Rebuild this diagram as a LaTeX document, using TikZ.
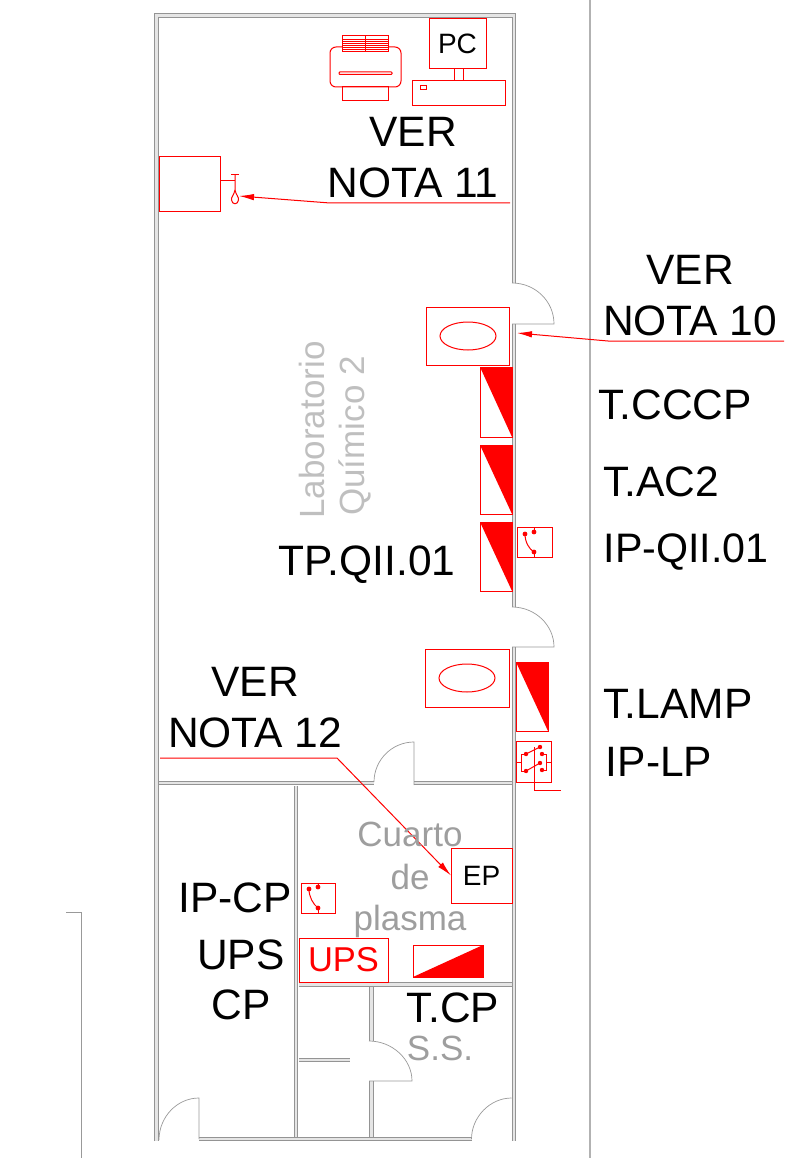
\documentclass[tikz,border=0pt]{standalone}
\usepackage{fontspec}
\setmainfont{Liberation Sans}
\usetikzlibrary{arrows.meta}
\begin{document}
\begin{tikzpicture}[x=1pt,y=-1pt,>=latex]
\tikzstyle{wall}=[draw=black!42,line width=.9pt,double=black!10,double distance=2.9pt]
\tikzstyle{door}=[draw=black!40,line width=.7pt]
\tikzstyle{grid}=[draw=black!30,line width=1.1pt]
\tikzstyle{eqbox}=[draw=red,line width=1pt,inner sep=0pt,outer sep=0pt,anchor=north west]
\tikzstyle{rline}=[draw=red,line width=1pt]
\tikzstyle{leader}=[draw=red,line width=1pt,-{Latex[length=15pt,width=6.5pt]}]
\tikzstyle{big}=[anchor=base,inner sep=0pt,font=\fontsize{42.5}{42.5}\selectfont]
\tikzstyle{room}=[anchor=base,inner sep=0pt,text=black!38,font=\fontsize{35}{35}\selectfont]
\tikzstyle{tag}=[inner sep=0pt,font=\fontsize{28}{28}\selectfont]
\useasboundingbox (0,0) rectangle (784,1158);
% walls
\draw[wall] (156.5,1141)--(156.5,15.5)--(514,15.5)--(514,283);
\draw[wall] (514,324)--(514,607);
\draw[wall] (514,647)--(514,1141);
\draw[wall] (159,783)--(374,783);
\draw[wall] (414,783)--(511.5,783);
\draw[wall] (296,785.5)--(296,1137);
\draw[wall] (298.5,984.5)--(511.5,984.5);
\draw[wall] (371.5,987)--(371.5,1041);
\draw[wall] (371.5,1081)--(371.5,1137);
\draw[wall] (298.5,1060)--(350,1060);
\draw[wall] (199,1139)--(471.5,1139);
% doors
\draw[door] (512,283) .. controls (535,283) and (554,301) .. (554,324)--(512,324);
\draw[door] (512,607) .. controls (535,607) and (554,625) .. (554,647)--(512,647);
\draw[door] (414,785)--(414,742) .. controls (392,742) and (374,760) .. (374,782);
\draw[door] (369,1041) .. controls (392,1041) and (412,1059) .. (412,1081)--(369,1081);
\draw[door] (199,1139)--(199,1098) .. controls (177,1098) and (159,1117) .. (159,1140);
\draw[door] (511.5,1098) .. controls (490,1098) and (471.5,1117) .. (471.5,1139);
% outside lines
\draw[grid] (590,0)--(590,1158);
\draw[door] (66,912)--(81,912)--(81,1158);
% printer
\node[eqbox,rounded corners=6pt,minimum width=71,minimum height=40] (PRN) at (330,47) {};
\node[eqbox,minimum width=46,minimum height=14] (FEED) at (342,87) {};
\node[eqbox,fill=white,minimum width=46,minimum height=16] (TRAY) at (342,36) {};
\foreach \y in {39,41,...,49} \draw[rline,line width=.6pt] (342,\y)--(388,\y);
\draw[rline,line width=.5pt] (365,36)--(365,52);
\node[eqbox,rounded corners=.8pt,minimum width=53,minimum height=2.5] (SLOT) at (339,72) {};
% computer
\node[eqbox,tag,minimum width=57,minimum height=50] (PC) at (429,19) {PC};
\node[eqbox,minimum width=93,minimum height=25] (CASE) at (412,81) {};
\node[eqbox,minimum width=6,minimum height=4] (LED) at (420,86) {};
\draw[rline] (454,69)--(454,81);
\draw[rline] (463,69)--(463,81);
% sink
\node[eqbox,minimum width=61,minimum height=55] (SINK) at (159,157) {};
\coordinate (TAPH) at (235,181);
\coordinate (TAPT) at (235,175);
\coordinate (DROP) at (239,196);
\draw[rline] (SINK.east |- TAPH)--(TAPH);
\draw[rline] (TAPT)--(235,190) .. controls (236,195) and (239,197) .. (238.5,200) .. controls (238,205) and (232,205) .. (231.5,200) .. controls (231,197) and (234,195) .. (235,190);
\draw[rline] (231,175)--(239,175);
% tables
\node[eqbox,minimum width=83,minimum height=58] (T1) at (426,307) {};
\draw[rline] (468,336) ellipse[x radius=28,y radius=14];
\node[eqbox,minimum width=84,minimum height=58] (T2) at (425,649) {};
\draw[rline] (467,678) ellipse[x radius=28,y radius=14];
% panels
\node[eqbox,minimum width=32,minimum height=70] (TCCCP) at (480,367) {};
\node[eqbox,minimum width=32,minimum height=69] (TAC) at (480,445) {};
\node[eqbox,minimum width=32,minimum height=69] (TPQ) at (480,522) {};
\node[eqbox,minimum width=32,minimum height=69] (TLAMP) at (516,662) {};
\foreach \p in {TCCCP,TAC,TPQ,TLAMP}
  \fill[red] (\p.north west)--(\p.north east)--(\p.south east)--cycle;
\node[eqbox,minimum width=70,minimum height=32] (TCP) at (413,945) {};
\fill[red] (TCP.south west)--(TCP.north east)--(TCP.south east)--cycle;
% switches
\node[eqbox,minimum width=35,minimum height=30] (IPQ) at (517,527) {};
\fill[red] (525,534) circle (2.4) (534,532) circle (2.4) (534,552) circle (2.4);
\draw[rline] (534,527)--(534,532) (534,552)--(534,557);
\draw[rline] (525,534) .. controls (525,542) and (529,549) .. (534,552);
\node[eqbox,minimum width=34,minimum height=30] (IPC) at (301,883) {};
\fill[red] (309,889) circle (2.4) (318,887) circle (2.4) (318,908) circle (2.4);
\draw[rline] (318,883)--(318,887) (318,908)--(318,913);
\draw[rline] (309,889) .. controls (309,897) and (313,904) .. (318,908);
\node[eqbox,minimum width=35,minimum height=41] (IPL) at (516,741) {};
\fill[red] (526,754) circle (2.2) (540,747) circle (2.2) (542,754) circle (2.2)
  (540,763) circle (2.2) (526,771) circle (2.2) (542,770) circle (2.2);
\draw[rline] (526,754)--(540,747) (526,771)--(540,763);
\draw[rline] (526,754)--(521,754)--(521,771)--(526,771) (516,762)--(521,762);
\draw[rline] (542,754)--(546,754)--(546,770)--(542,770) (546,762)--(551,762);
\draw[rline] (534,747)--(534,790)--(561,790);
% others
\node[eqbox,tag,minimum width=61,minimum height=55] (EP) at (451,848) {EP};
\node[eqbox,text=red,font=\fontsize{34.5}{34.5}\selectfont,minimum width=89,minimum height=44] (UPS) at (299,938) {UPS};
% leaders
\coordinate (L11) at (510,203);
\coordinate (L10) at (784,341);
\coordinate (W10) at (517,333);
\coordinate (L12) at (160,758);
\draw[leader] (L11)--(330,203)--(DROP);
\draw[leader] (L10)--(608,341)--(W10);
\draw[leader] (L12)--(337,758)--(EP.west);
% labels
\node[big] (VER11) at (413,147) {VER};
\node[big] (NOTA11) at (413,198) {NOTA 11};
\node[big] (VER10) at (690,284) {VER};
\node[big] (NOTA10) at (690,335) {NOTA 10};
\node[big] (LCCCP) at (675,419) {T.CCCP};
\node[big] (LAC) at (661,496) {T.AC2};
\node[big,font=\fontsize{41.2}{41.2}\selectfont] (LIPQ) at (686,562) {IP-QII.01};
\node[big] (LTPQ) at (367,575) {TP.QII.01};
\node[big] (LLAMP) at (678,718) {T.LAMP};
\node[big] (LIPL) at (659,776) {IP-LP};
\node[big] (VER12) at (255,696) {VER};
\node[big] (NOTA12) at (255,747) {NOTA 12};
\node[big] (LIPC) at (235,912) {IP-CP};
\node[big] (LUPS) at (241,969) {UPS};
\node[big] (LCP) at (241,1019) {CP};
\node[big] (LTCP) at (453,1022) {T.CP};
\node[room] (SS) at (440,1060) {S.S.};
\node[room] (CUARTO) at (410,846) {Cuarto};
\node[room] (DE) at (410,889) {de};
\node[room] (PLASMA) at (410,930) {plasma};
\node[room,text=black!25,rotate=90] (LAB) at (324,430) {Laboratorio};
\node[room,text=black!25,rotate=90] (QUI) at (364,436) {Químico 2};
\end{tikzpicture}
\end{document}
